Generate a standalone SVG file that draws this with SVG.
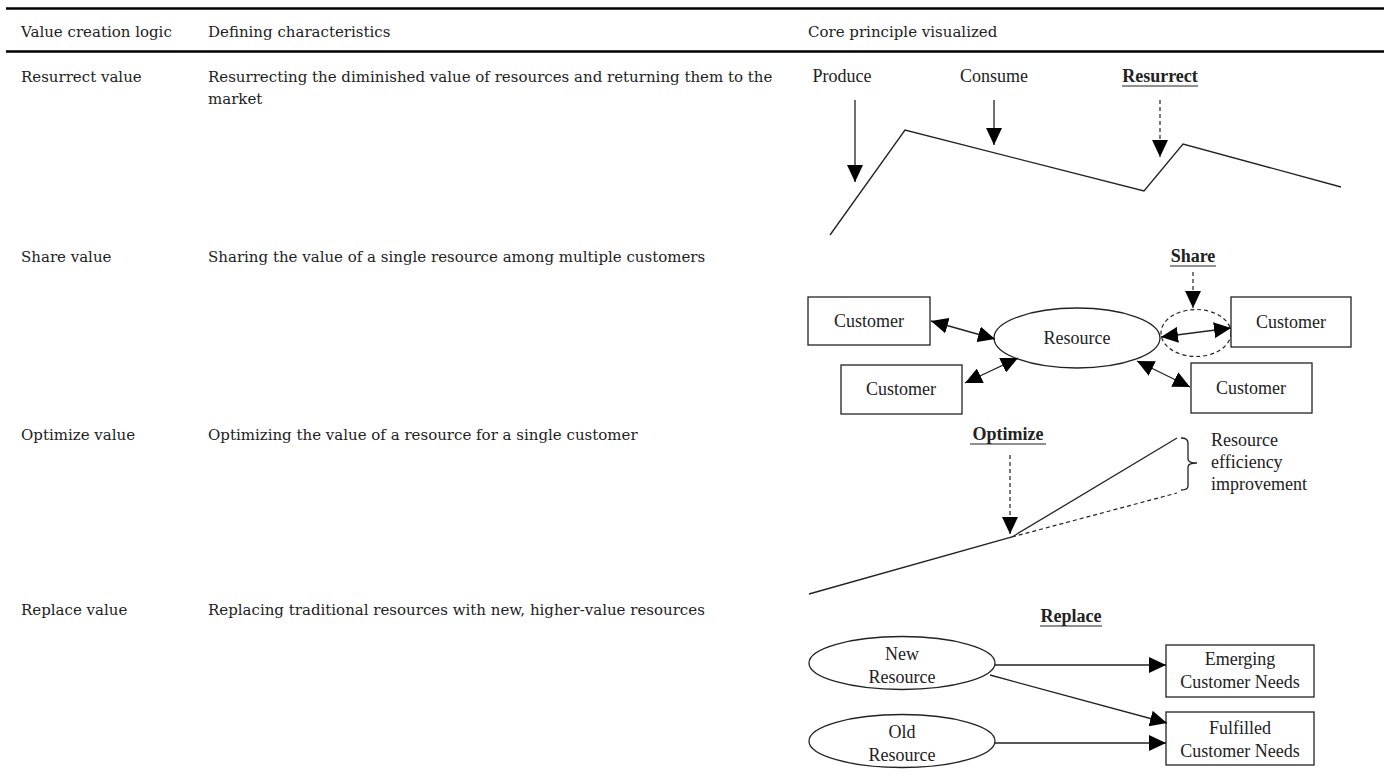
<svg xmlns="http://www.w3.org/2000/svg" width="1384" height="782" viewBox="0 0 1384 782">
<style>
.tt{font-family:"DejaVu Serif","Liberation Serif",serif;font-size:15px;fill:#222}
.dt{font-family:"Liberation Serif","Times New Roman",serif;font-size:18px;fill:#222}
.db{font-family:"Liberation Serif","Times New Roman",serif;font-size:18px;font-weight:bold;fill:#222}
.rule{stroke:#000;stroke-width:2.5}
.ln{stroke:#222;stroke-width:1.3;fill:none}
.dash{stroke:#222;stroke-width:1.2;fill:none;stroke-dasharray:4 3}
.box{fill:#fff;stroke:#222;stroke-width:1.3}
.ul{stroke:#222;stroke-width:1.2}
</style>
<defs>
<marker id="ah" markerWidth="18" markerHeight="16" refX="17" refY="8" orient="auto-start-reverse" markerUnits="userSpaceOnUse"><path d="M0,0 L17,8 L0,16 Z" fill="#000"/></marker>
</defs>
<rect width="1384" height="782" fill="#fff"/>
<g id="table">
<line class="rule" x1="6" y1="8.5" x2="1384" y2="8.5"/>
<line class="rule" x1="6" y1="51.5" x2="1384" y2="51.5"/>
<text class="tt" x="21" y="37">Value creation logic</text>
<text class="tt" x="208" y="37">Defining characteristics</text>
<text class="tt" x="808" y="37">Core principle visualized</text>
<text class="tt" x="21" y="82">Resurrect value</text>
<text class="tt" x="208" y="82">Resurrecting the diminished value of resources and returning them to the</text>
<text class="tt" x="208" y="104">market</text>
<text class="tt" x="21" y="262">Share value</text>
<text class="tt" x="208" y="262">Sharing the value of a single resource among multiple customers</text>
<text class="tt" x="21" y="440">Optimize value</text>
<text class="tt" x="208" y="440">Optimizing the value of a resource for a single customer</text>
<text class="tt" x="21" y="615">Replace value</text>
<text class="tt" x="208" y="615">Replacing traditional resources with new, higher-value resources</text>
</g>
<g id="resurrect">
<text class="dt" x="842" y="82" text-anchor="middle">Produce</text>
<text class="dt" x="994" y="82" text-anchor="middle">Consume</text>
<text class="db" x="1160" y="82" text-anchor="middle">Resurrect</text>
<line class="ul" x1="1122" y1="86" x2="1198" y2="86"/>
</g>
<g id="share">
<text class="db" x="1193" y="262" text-anchor="middle">Share</text>
<line class="ul" x1="1170" y1="266" x2="1216" y2="266"/>
<ellipse id="resource" class="box" cx="1077" cy="338" rx="83" ry="30"/>
<text class="dt" x="1077" y="344" text-anchor="middle">Resource</text>
<ellipse class="dash" cx="1196" cy="333" rx="35" ry="23.5"/>
<rect class="box" x="808" y="297" width="122" height="48"/>
<text class="dt" x="869" y="327" text-anchor="middle">Customer</text>
<rect class="box" x="841" y="365" width="121" height="49"/>
<text class="dt" x="901" y="395" text-anchor="middle">Customer</text>
<rect class="box" x="1231" y="297" width="120" height="50"/>
<text class="dt" x="1291" y="328" text-anchor="middle">Customer</text>
<rect class="box" x="1191" y="363" width="121" height="50"/>
<text class="dt" x="1251" y="394" text-anchor="middle">Customer</text>
</g>
<g id="optimize">
<text class="db" x="1008" y="440" text-anchor="middle">Optimize</text>
<line class="ul" x1="970" y1="444" x2="1046" y2="444"/>
<path class="ln" d="M1181,438 Q1188,438 1188,443 L1188,459 Q1188,463 1197,463 Q1188,463 1188,467 L1188,486 Q1188,490 1181,490"/>
<text class="dt" x="1211" y="446">Resource</text>
<text class="dt" x="1211" y="468">efficiency</text>
<text class="dt" x="1211" y="490">improvement</text>
</g>
<g id="replace">
<text class="db" x="1071" y="622" text-anchor="middle">Replace</text>
<line class="ul" x1="1040" y1="626" x2="1102" y2="626"/>
<ellipse class="box" cx="902" cy="663" rx="93" ry="26.5"/>
<text class="dt" x="902" y="660" text-anchor="middle">New</text>
<text class="dt" x="902" y="683" text-anchor="middle">Resource</text>
<ellipse class="box" cx="902" cy="741" rx="93" ry="26.5"/>
<text class="dt" x="902" y="738" text-anchor="middle">Old</text>
<text class="dt" x="902" y="761" text-anchor="middle">Resource</text>
<rect class="box" x="1166" y="645" width="148" height="52"/>
<text class="dt" x="1240" y="665" text-anchor="middle">Emerging</text>
<text class="dt" x="1240" y="688" text-anchor="middle">Customer Needs</text>
<rect class="box" x="1166" y="712" width="148" height="53"/>
<text class="dt" x="1240" y="734" text-anchor="middle">Fulfilled</text>
<text class="dt" x="1240" y="757" text-anchor="middle">Customer Needs</text>
</g>
<g id="connectors">
<polyline class="ln" points="830,235 905,130 1144,191 1183,144 1341,187"/>
<line class="ln" x1="855" y1="100" x2="855" y2="182" marker-end="url(#ah)"/>
<line class="ln" x1="994" y1="100" x2="994" y2="145" marker-end="url(#ah)"/>
<line class="dash" x1="1160" y1="100" x2="1160" y2="157" marker-end="url(#ah)"/>
<line class="dash" x1="1193" y1="272" x2="1193" y2="308" marker-end="url(#ah)"/>
<line class="ln" x1="931" y1="321" x2="995" y2="339" marker-start="url(#ah)" marker-end="url(#ah)"/>
<line class="ln" x1="965" y1="383" x2="1018" y2="358" marker-start="url(#ah)" marker-end="url(#ah)"/>
<line class="ln" x1="1161" y1="337" x2="1231" y2="328" marker-start="url(#ah)" marker-end="url(#ah)"/>
<line class="ln" x1="1137" y1="361" x2="1190" y2="387" marker-start="url(#ah)" marker-end="url(#ah)"/>
<line class="dash" x1="1010" y1="455" x2="1010" y2="534" marker-end="url(#ah)"/>
<polyline class="ln" points="809,594 1012,537 1177,438"/>
<line class="dash" x1="1012" y1="537" x2="1177" y2="493"/>
<line class="ln" x1="995" y1="665" x2="1166" y2="665" marker-end="url(#ah)"/>
<line class="ln" x1="990" y1="675" x2="1167" y2="723" marker-end="url(#ah)"/>
<line class="ln" x1="995" y1="743" x2="1166" y2="743" marker-end="url(#ah)"/>
</g>
</svg>
